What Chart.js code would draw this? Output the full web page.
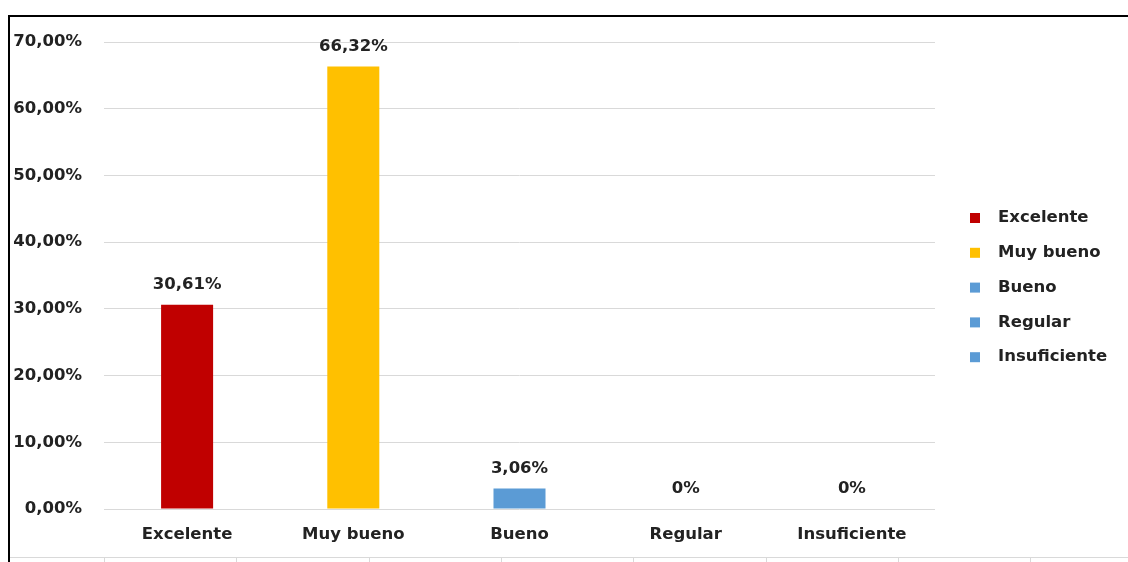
<!DOCTYPE html>
<html>
<head>
<meta charset="utf-8">
<script src="https://cdn.jsdelivr.net/npm/chart.js@4.4.1/dist/chart.umd.min.js"></script>
<style>
  html, body { margin: 0; padding: 0; background: #fff; }
  #wrap { position: relative; width: 1128px; height: 562px; }
</style>
</head>
<body>
<div id="wrap"><canvas id="myChart"></canvas></div>
<script>
const categories = ['Excelente', 'Muy bueno', 'Bueno', 'Regular', 'Insuficiente'];
const percentValues = [30.61, 66.32, 3.06, 0, 0];
const barColors = ['#C00000', '#FFC000', '#5B9BD5', '#5B9BD5', '#5B9BD5'];
const yTicks = [0, 10, 20, 30, 40, 50, 60, 70];

const FONT = 'DejaVu Sans';
const FSIZE = 16.5;
const TEXT = '#222222';

function formatPct(v, zeroShort) {
  if (zeroShort && v === 0) return '0%';
  return v.toFixed(2).replace('.', ',') + '%';
}

// value labels above each bar
const valueLabels = {
  id: 'valueLabels',
  afterDatasetsDraw(chart) {
    const ctx = chart.ctx;
    const meta = chart.getDatasetMeta(0);
    ctx.save();
    ctx.font = 'bold ' + FSIZE + 'px "' + FONT + '"';
    ctx.fillStyle = TEXT;
    ctx.textAlign = 'center';
    ctx.textBaseline = 'middle';
    meta.data.forEach((bar, i) => {
      ctx.fillText(formatPct(percentValues[i], true), bar.x, bar.y - 20);
    });
    ctx.restore();
  }
};

// legend on the right, one entry per category
const sideLegend = {
  id: 'sideLegend',
  afterDraw(chart) {
    const ctx = chart.ctx;
    ctx.save();
    ctx.font = 'bold ' + FSIZE + 'px "' + FONT + '"';
    ctx.textBaseline = 'middle';
    ctx.textAlign = 'left';
    categories.forEach((name, i) => {
      const y = 218 + i * 34.8;
      ctx.fillStyle = barColors[i];
      ctx.fillRect(970, y - 5, 10, 10);
      ctx.fillStyle = TEXT;
      ctx.fillText(name, 998, y);
    });
    ctx.restore();
  }
};

// outer frame + sheet cell lines under the chart
const frame = {
  id: 'frame',
  afterDraw(chart) {
    const ctx = chart.ctx;
    ctx.save();
    ctx.strokeStyle = '#d9d9d9';
    ctx.lineWidth = 1;
    ctx.beginPath();
    ctx.moveTo(8, 557.5);
    ctx.lineTo(1128, 557.5);
    for (let x = 104; x < 1128; x += 132.3) {
      ctx.moveTo(Math.round(x) + 0.5, 557.5);
      ctx.lineTo(Math.round(x) + 0.5, 562);
    }
    ctx.stroke();
    ctx.strokeStyle = '#000';
    ctx.lineWidth = 2;
    ctx.beginPath();
    ctx.moveTo(9, 562);
    ctx.lineTo(9, 16);
    ctx.lineTo(1128, 16);
    ctx.stroke();
    ctx.restore();
  }
};

const ctx = document.getElementById('myChart').getContext('2d');
const chart = new Chart(ctx, {
  type: 'bar',
  data: {
    labels: categories,
    datasets: [{
      data: percentValues,
      backgroundColor: barColors,
      borderWidth: 0,
      categoryPercentage: 1,
      barPercentage: 0.313
    }]
  },
  options: {
    responsive: true,
    maintainAspectRatio: false,
    animation: false,
    devicePixelRatio: 1,
    layout: { padding: { left: 0, top: 42, right: 193, bottom: 0 } },
    plugins: {
      legend: { display: false },
      tooltip: { enabled: false }
    },
    scales: {
      x: {
        grid: { display: false },
        border: { display: false },
        ticks: {
          color: TEXT,
          padding: 8,
          font: { family: FONT, size: FSIZE, weight: 'bold' }
        },
        afterFit(scale) { scale.height = 53; }
      },
      y: {
        min: 0,
        max: 70,
        afterBuildTicks(scale) { scale.ticks = yTicks.map(v => ({ value: v })); },
        grid: { color: '#d9d9d9', drawTicks: false, lineWidth: 1 },
        border: { display: false },
        ticks: {
          color: TEXT,
          padding: 22,
          font: { family: FONT, size: FSIZE, weight: 'bold' },
          callback: v => formatPct(v, false)
        },
        afterFit(scale) { scale.width = 104; }
      }
    }
  },
  plugins: [valueLabels, sideLegend, frame]
});
</script>
</body>
</html>
